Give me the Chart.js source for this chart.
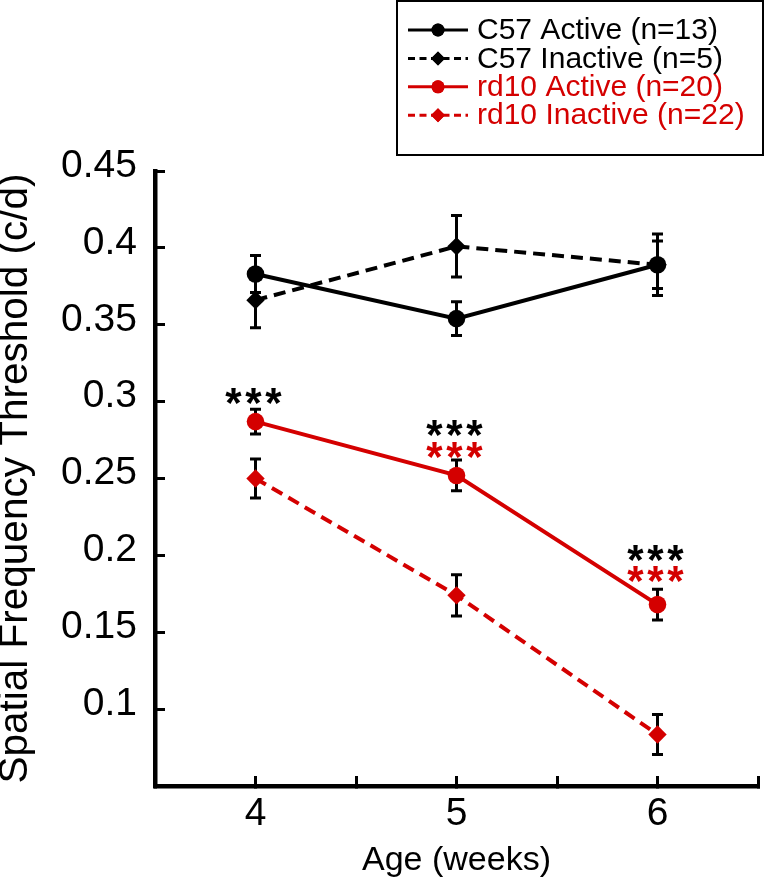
<!DOCTYPE html>
<html>
<head>
<meta charset="utf-8">
<script src="https://cdn.jsdelivr.net/npm/chart.js@4.4.1/dist/chart.umd.min.js"></script>
<style>
html,body{margin:0;padding:0;background:#fff}
#wrap{width:773px;height:880px;position:relative}
</style>
</head>
<body>
<div id="wrap"><canvas id="c"></canvas></div>
<script>
// ---- data ----
const ages = [4, 5, 6];
const seriesNames = ['C57 Active (n=13)', 'C57 Inactive (n=5)', 'rd10 Active (n=20)', 'rd10 Inactive (n=22)'];
const c57Active = [0.383, 0.354, 0.389];
const c57ActiveErr = [0.012, 0.011, 0.0155];
const c57Inactive = [0.366, 0.401, 0.389];
const c57InactiveErr = [0.018, 0.020, 0.020];
const rd10Active = [0.287, 0.252, 0.168];
const rd10ActiveErr = [0.008, 0.010, 0.010];
const rd10Inactive = [0.250, 0.174, 0.0835];
const rd10InactiveErr = [0.0127, 0.0134, 0.013];
const yTickLabels = [0.1, 0.15, 0.2, 0.25, 0.3, 0.35, 0.4, 0.45];
const xTickLabels = [4, 5, 6];
// significance marks: age, level of glyph centre, comparison group
const starAges = [4, 5, 5, 6, 6];
const starLevels = [0.3056, 0.2848, 0.2704, 0.2034, 0.1893];
const starGroups = ['C57', 'C57', 'rd10', 'C57', 'rd10'];

// ---- styles ----
const BLACK = '#000000';
const RED = '#d40000';
const FONT = '"Liberation Sans", Arial, Helvetica, sans-serif';

function makeDataset(label, vals, errs, color, dashed, shape) {
  return {
    label: label,
    data: ages.map((a, i) => ({x: a, y: vals[i]})),
    errors: errs,
    borderColor: color,
    backgroundColor: color,
    borderWidth: 4,
    borderDash: dashed ? [12, 7] : [],
    pointStyle: shape,
    pointRadius: shape === 'circle' ? 8.8 : 9.2,
    pointHoverRadius: shape === 'circle' ? 8.8 : 9.2,
    pointBorderWidth: 0,
    pointBackgroundColor: color,
    showLine: true,
    tension: 0,
    fill: false,
    clip: false
  };
}

const datasets = [
  makeDataset(seriesNames[0], c57Active, c57ActiveErr, BLACK, false, 'circle'),
  makeDataset(seriesNames[1], c57Inactive, c57InactiveErr, BLACK, true, 'rectRot'),
  makeDataset(seriesNames[2], rd10Active, rd10ActiveErr, RED, false, 'circle'),
  makeDataset(seriesNames[3], rd10Inactive, rd10InactiveErr, RED, true, 'rectRot')
];

const errorBars = {
  id: 'errorBars',
  beforeDatasetsDraw(chart) {
    const {ctx, scales: {x, y}} = chart;
    ctx.save();
    ctx.strokeStyle = BLACK;
    ctx.lineWidth = 3;
    ctx.setLineDash([]);
    chart.data.datasets.forEach(d => {
      d.data.forEach((p, i) => {
        const e = d.errors[i];
        const px = x.getPixelForValue(p.x);
        const top = y.getPixelForValue(p.y + e);
        const bot = y.getPixelForValue(p.y - e);
        ctx.beginPath();
        ctx.moveTo(px, top); ctx.lineTo(px, bot);
        ctx.moveTo(px - 5.5, top); ctx.lineTo(px + 5.5, top);
        ctx.moveTo(px - 5.5, bot); ctx.lineTo(px + 5.5, bot);
        ctx.stroke();
      });
    });
    ctx.restore();
  }
};

const stars = {
  id: 'stars',
  afterDatasetsDraw(chart) {
    const {ctx, scales: {x, y}} = chart;
    const size = 42;
    const gap = 20;
    ctx.save();
    ctx.font = 'bold ' + size + 'px ' + FONT;
    ctx.textAlign = 'center';
    ctx.textBaseline = 'alphabetic';
    starAges.forEach((a, i) => {
      ctx.fillStyle = starGroups[i] === 'C57' ? BLACK : RED;
      const cx = x.getPixelForValue(a) - 2;
      const by = y.getPixelForValue(starLevels[i]) + 0.56 * size;
      for (let k = -1; k <= 1; k++) ctx.fillText('*', cx + k * gap, by);
    });
    ctx.restore();
  }
};

const boxLegend = {
  id: 'boxLegend',
  afterDraw(chart) {
    const ctx = chart.ctx;
    ctx.save();
    ctx.strokeStyle = BLACK;
    ctx.lineWidth = 2;
    ctx.setLineDash([]);
    ctx.strokeRect(397, 1, 366, 154);
    const rowY0 = 30, dy = 28.4;
    chart.data.datasets.forEach((d, i) => {
      const cy = rowY0 + i * dy;
      ctx.strokeStyle = d.borderColor;
      ctx.lineWidth = 3;
      ctx.setLineDash(d.borderDash.length ? [7, 4.5] : []);
      ctx.beginPath();
      ctx.moveTo(408, cy); ctx.lineTo(468, cy);
      ctx.stroke();
      ctx.setLineDash([]);
      ctx.fillStyle = d.borderColor;
      Chart.helpers.drawPoint(ctx, {pointStyle: d.pointStyle, radius: d.pointStyle === 'circle' ? 6.5 : 7, borderWidth: 0, rotation: 0}, 438, cy);
      ctx.fill();
      ctx.font = 'normal 30px ' + FONT;
      ctx.textAlign = 'left';
      ctx.textBaseline = 'middle';
      ctx.fillText(d.label, 477, cy + 1);
    });
    ctx.restore();
  }
};

function near(list, v) { return list.some(t => Math.abs(t - v) < 1e-6); }

new Chart(document.getElementById('c'), {
  type: 'line',
  data: {datasets: datasets},
  plugins: [errorBars, stars, boxLegend],
  options: {
    responsive: true,
    maintainAspectRatio: false,
    animation: false,
    events: [],
    layout: {padding: {top: 171, right: 4, left: 0, bottom: 0}},
    plugins: {legend: {display: false}, tooltip: {enabled: false}},
    scales: {
      x: {
        type: 'linear',
        min: 3.5, max: 6.5,
        afterFit(scale) { scale.height = 94; },
        ticks: {
          stepSize: 0.5,
          autoSkip: false,
          maxRotation: 0,
          padding: 15,
          color: BLACK,
          font: {family: FONT, size: 39},
          callback: v => near(xTickLabels, v) ? String(v) : ''
        },
        grid: {display: true, drawOnChartArea: false, drawTicks: true, tickLength: -10, color: BLACK, lineWidth: 3},
        border: {display: true, color: BLACK, width: 4.5},
        title: {display: true, text: 'Age (weeks)', color: BLACK, font: {family: FONT, size: 34, lineHeight: 1.0}, padding: {top: 0, bottom: 2}}
      },
      y: {
        type: 'linear',
        min: 0.05, max: 0.45,
        afterFit(scale) { scale.width = 155; },
        ticks: {
          stepSize: 0.05,
          autoSkip: false,
          padding: 28,
          labelOffset: -5,
          color: BLACK,
          font: {family: FONT, size: 39},
          callback: v => near(yTickLabels, v) ? String(+v.toFixed(2)) : ''
        },
        grid: {display: true, drawOnChartArea: false, drawTicks: true, tickLength: -10, color: BLACK, lineWidth: 3},
        border: {display: true, color: BLACK, width: 4.5},
        title: {display: true, text: 'Spatial Frequency Threshold (c/d)', color: BLACK, font: {family: FONT, size: 40.5, lineHeight: 0.8}, padding: {top: 0, bottom: 0}}
      }
    }
  }
});
</script>
</body>
</html>
